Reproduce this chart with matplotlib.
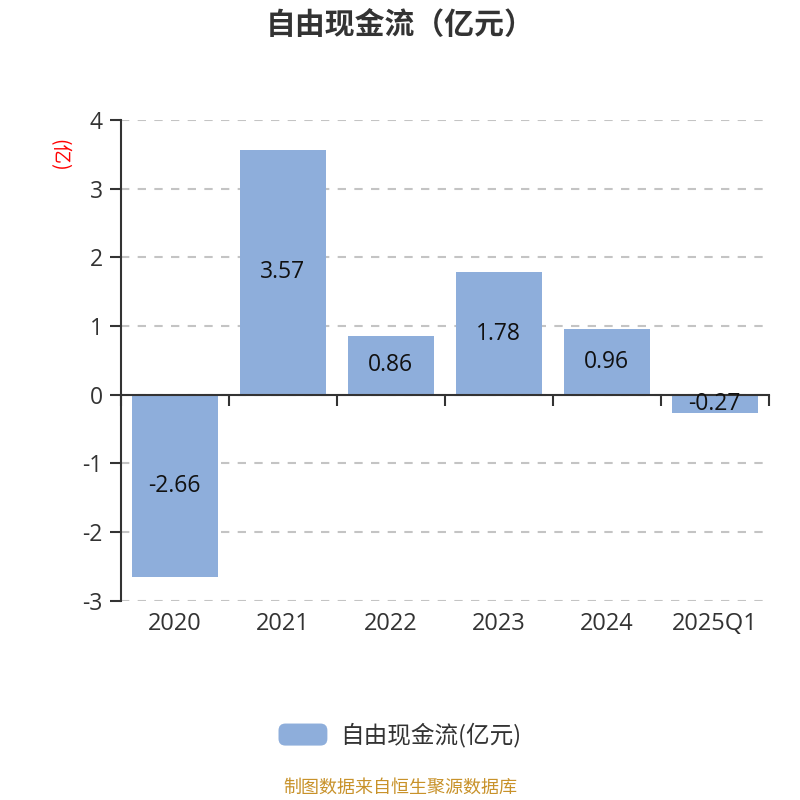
import matplotlib
matplotlib.use("Agg")
import matplotlib.pyplot as plt
from matplotlib.patches import FancyBboxPatch
from matplotlib.legend_handler import HandlerPatch

plt.rcParams['font.family'] = ['Open Sans', 'Noto Sans CJK SC', 'DejaVu Sans']
plt.rcParams['axes.unicode_minus'] = False
CJK = ['Noto Sans CJK SC', 'DejaVu Sans']

categories = ['2020', '2021', '2022', '2023', '2024', '2025Q1']
values = [-2.66, 3.57, 0.86, 1.78, 0.96, -0.27]
yticks = [-3, -2, -1, 0, 1, 2, 3, 4]
bar_color = '#8eaedb'

fig = plt.figure(figsize=(8, 8), dpi=100)
ax = fig.add_axes([0.151, 0.249, 0.81, 0.601])
x = list(range(len(categories)))
bars = ax.bar(x, values, width=0.8, color=bar_color, label='自由现金流(亿元)', zorder=3)
ax.set_xlim(-0.5, len(categories) - 0.5)
ax.set_ylim(-3, 4)
ax.set_yticks(yticks)
ax.tick_params(axis='y', length=8, width=1.5, color='#333333', labelsize=16.5, labelcolor='#333333', pad=5)
ax.yaxis.grid(True, linestyle=(0, (4, 4)), color='#c4c4c4', linewidth=1.5, zorder=0)
for s in ['top', 'right']:
    ax.spines[s].set_visible(False)
ax.spines['left'].set_color('#333333')
ax.spines['left'].set_linewidth(1.5)
ax.spines['bottom'].set_position(('data', 0))
ax.spines['bottom'].set_color('#333333')
ax.spines['bottom'].set_linewidth(1.5)
ax.spines['bottom'].set_zorder(4)
ax.set_xticks([i + 0.5 for i in range(-1, len(categories))])
ax.set_xticklabels([])
ax.tick_params(axis='x', length=8, width=1.5, color='#333333')
for i, c in enumerate(categories):
    ax.annotate(c, xy=(i, -3), xycoords='data', xytext=(0, -8), textcoords='offset points',
                ha='center', va='top', fontsize=17, color='#333333')
for i, v in enumerate(values):
    ax.text(i, v / 2, f'{v:.2f}', ha='center', va='center', fontsize=16.5, color='#111111', zorder=5)

fig.text(0.073, 0.806, '(亿)', rotation=-90, color='red', fontsize=14, ha='center', va='center', family=CJK)
fig.text(0.5, 0.969, '自由现金流（亿元）', ha='center', va='center', fontsize=21.5, fontweight='bold',
         color='#333333', family=CJK)

class HandlerRound(HandlerPatch):
    def create_artists(self, legend, orig_handle, xdescent, ydescent, width, height, fontsize, trans):
        p = FancyBboxPatch((-xdescent, -ydescent), width, height,
                           boxstyle='round,pad=0,rounding_size=5', facecolor=bar_color, edgecolor='none',
                           transform=trans)
        return [p]

leg = fig.legend(handles=[bars.patches[0]], labels=['自由现金流(亿元)'], loc='center',
                 bbox_to_anchor=(0.5, 0.081), frameon=False, fontsize=17, handlelength=2.07,
                 handleheight=1.06, handletextpad=0.55, labelcolor='#333333',
                 prop={'family': CJK, 'size': 17},
                 handler_map={bars.patches[0].__class__: HandlerRound()})
fig.text(0.5, 0.015, '制图数据来自恒生聚源数据库', ha='center', va='center', fontsize=13, color='#c8922a',
         family=CJK)

fig.savefig('out.png', dpi=100)
